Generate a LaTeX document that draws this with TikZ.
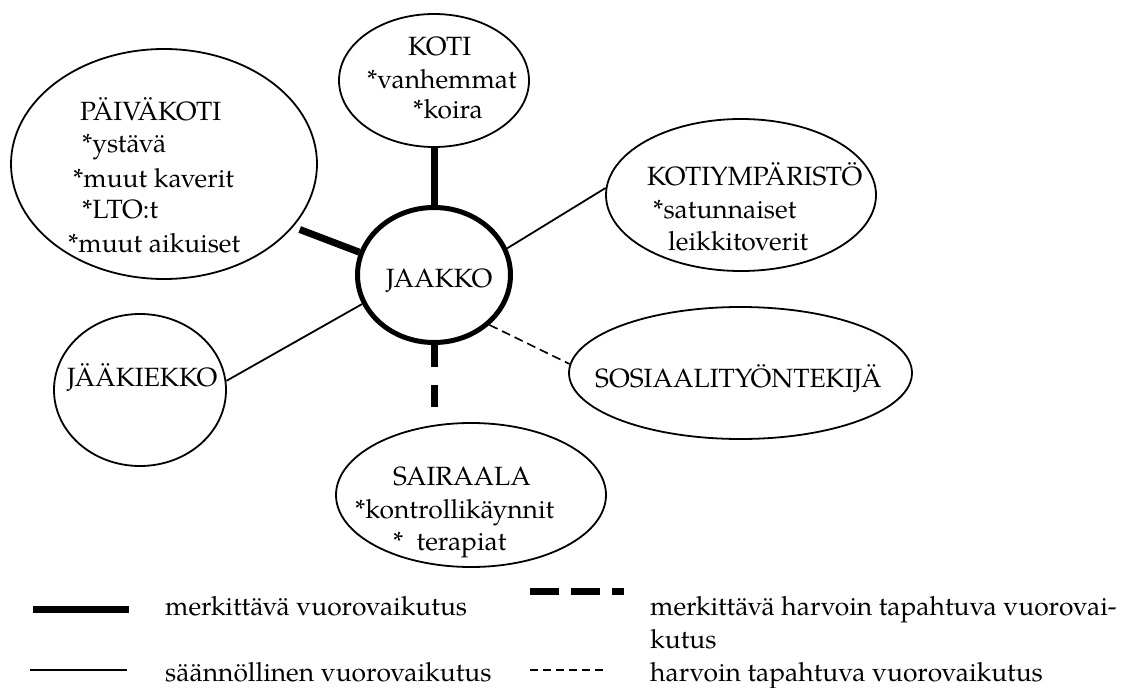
\documentclass[tikz,border=0pt]{standalone}
\usepackage{fontspec}
\setmainfont{TeX Gyre Pagella}
\usetikzlibrary{shapes.geometric}
\begin{document}
\begin{tikzpicture}[x=1pt,y=-1pt,
  every node/.style={font=\fontsize{26.4}{32}\selectfont},
  bub/.style={draw, ellipse, line width=1.8pt, inner sep=0pt},
  txt/.style={anchor=base west, inner sep=0pt},
  strongline/.style={line width=7pt},
  strongdash/.style={line width=7pt, dash pattern=on 22pt off 18pt},
  plainline/.style={line width=1.8pt},
  faintdash/.style={line width=1.6pt, dash pattern=on 9pt off 5pt},
  legstrongdash/.style={line width=7pt, dash pattern=on 29pt off 12pt},
  legfaintdash/.style={line width=1.6pt, dash pattern=on 8pt off 5pt}
]
\useasboundingbox (0,0) rectangle (1128,688);

% bubbles
\node[bub, minimum width=306pt, minimum height=230pt] (paiva) at (164,164) {};
\node[bub, minimum width=190pt, minimum height=133pt] (koti) at (434,80.5) {};
\node[bub, line width=5pt, minimum width=153pt, minimum height=135pt] (jaakko) at (434,275) {};
\node[bub, minimum width=270pt, minimum height=152pt] (kotiymp) at (741,195) {};
\node[bub, minimum width=343pt, minimum height=132pt] (sosi) at (740.5,373) {};
\node[bub, minimum width=172pt, minimum height=152pt] (jaakiekko) at (140,390) {};
\node[bub, minimum width=270pt, minimum height=144pt] (sairaala) at (471,495) {};

% texts
\node[txt] (t1) at (408,55) {KOTI};
\node[txt] (t2) at (367,88) {*vanhemmat};
\node[txt] (t3) at (413,118) {*koira};
\node[txt] (t4) at (80,120) {PÄIVÄKOTI};
\node[txt] (t5) at (82,152) {*ystävä};
\node[txt] (t6) at (73,187) {*muut kaverit};
\node[txt] (t7) at (82,218) {*LTO:t};
\node[txt] (t8) at (68,252) {*muut aikuiset};
\node[txt] (t9) at (386,287) {JAAKKO};
\node[txt] (t10) at (647,185) {KOTIYMPÄRISTÖ};
\node[txt] (t11) at (653,218) {*satunnaiset};
\node[txt] (t12) at (668,250) {leikkitoverit};
\node[txt] (t13) at (595,387) {SOSIAALITYÖNTEKIJÄ};
\node[txt] (t14) at (67,386) {JÄÄKIEKKO};
\node[txt] (t15) at (393,485) {SAIRAALA};
\node[txt] (t16) at (355,518) {*kontrollikäynnit};
\node[txt] (t17) at (393,550) {*\ \ terapiat};

% connectors
\draw[strongline] (koti.south) -- (jaakko.north);
\draw[strongline, shorten <=7pt] (paiva.-26.6) -- (jaakko.163.4);
\draw[plainline] (jaakko.20) -- (kotiymp.177);
\draw[plainline] (jaakiekko.6.6) -- (jaakko.202);
\draw[faintdash] (jaakko.-42) -- (sosi.177.4);
\draw[strongdash] (jaakko.south) -- (jaakko.south |- sairaala.north);

% legend
\coordinate (la1) at (33,609);  \coordinate (lb1) at (129,609);
\coordinate (la2) at (530,591); \coordinate (lb2) at (624,591);
\coordinate (la3) at (30,670);  \coordinate (lb3) at (127,670);
\coordinate (la4) at (530,670); \coordinate (lb4) at (605,670);
\draw[strongline] (la1) -- (lb1);
\draw[legstrongdash] (la2) -- (lb2);
\draw[plainline] (la3) -- (lb3);
\draw[legfaintdash] (la4) -- (lb4);
\node[txt] (g1) at (165,615) {merkittävä vuorovaikutus};
\node[txt] (g2) at (650,615) {merkittävä harvoin tapahtuva vuorovai-};
\node[txt] (g3) at (650,648) {kutus};
\node[txt] (g4) at (165,681) {säännöllinen vuorovaikutus};
\node[txt] (g5) at (650,681) {harvoin tapahtuva vuorovaikutus};
\end{tikzpicture}
\end{document}
